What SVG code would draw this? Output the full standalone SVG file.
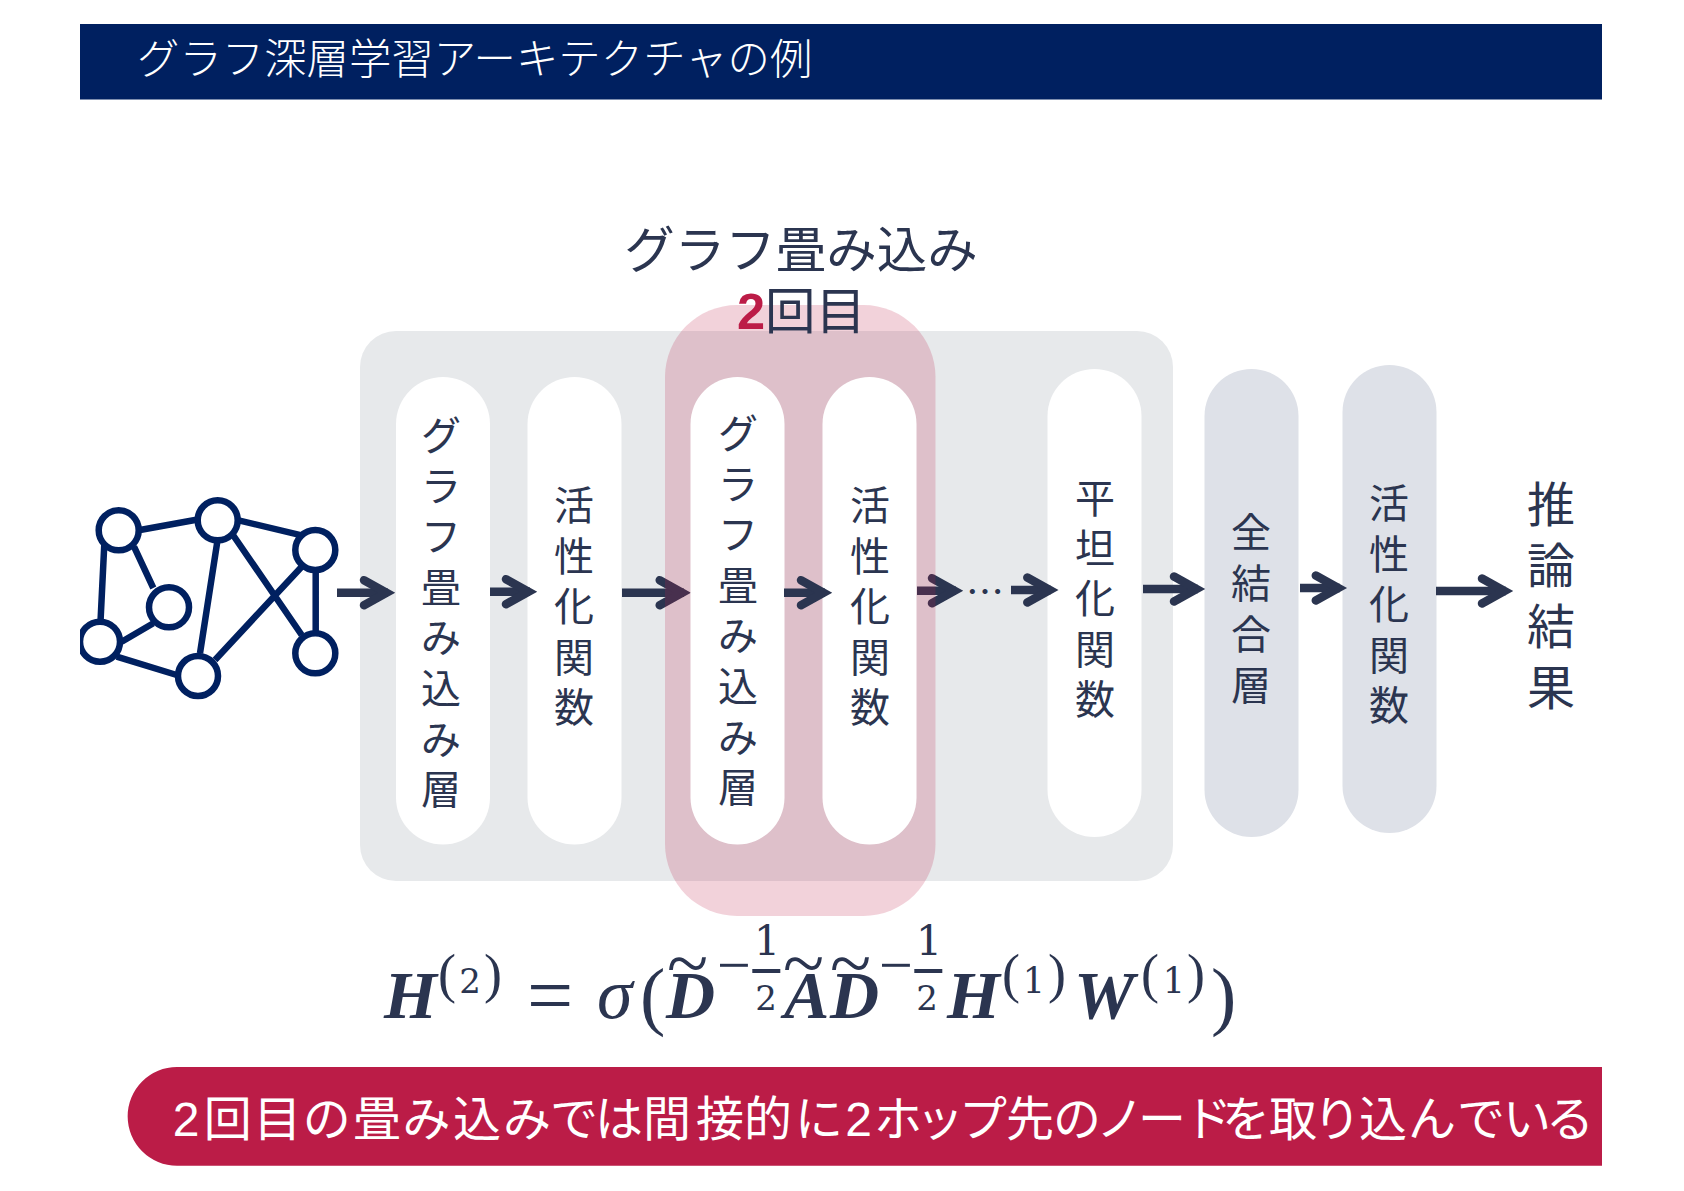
<svg xmlns="http://www.w3.org/2000/svg" width="1684" height="1191" viewBox="0 0 1684 1191">
<style>
text{font-family:"Liberation Sans","Noto Sans CJK JP",sans-serif;fill:#2B3550}
.v{font-size:40px;text-anchor:middle}
.w{fill:#fff}
.pw{fill:#fff}
.pb{fill:#DEE1E8}
.shaft,.head{fill:none;stroke:#2B3550;stroke-width:8.5}
.head{stroke-linecap:round;stroke-linejoin:miter;stroke-miterlimit:10}
.gn{fill:#fff;stroke:#002060;stroke-width:6.500}
.ge{fill:none;stroke:#002060;stroke-width:6.500}
.m{font-family:"Liberation Serif",serif}
.mb{font-family:"Liberation Serif",serif;font-weight:bold;font-style:italic;font-size:68px}
.t{font-family:"Liberation Serif",serif;font-size:76px}
.d{font-family:"DejaVu Serif",serif;text-anchor:middle}
</style>
<defs>
<clipPath id="cg"><rect x="80" y="480" width="300" height="240"/></clipPath>
</defs>
<rect width="1684" height="1191" fill="#fff"/>
<g id="title-bar"><rect x="80" y="24" width="1522" height="75.500" fill="#002060"/><text class="w" x="137" y="74" font-size="42.400" font-weight="300">グラフ深層学習アーキテクチャの例</text></g>
<g id="graph-title"><text x="801" y="268" font-size="50.500" text-anchor="middle">グラフ畳み込み</text></g>
<g id="graph-icon" clip-path="url(#cg)">
<path class="ge" d="M118 534L217 516M217.700 515.300L315.300 538.700M105 530L99.500 642M134 546.700L153.300 588M121.700 641.700L153.300 623.300M116.700 656.700L176.700 675M217.300 541.700L200 653.300M215 660L301.700 566.700M233 535L301.700 635M315.700 550V653"/>
<circle class="gn" cx="118.700" cy="530.300" r="20"/><circle class="gn" cx="217.700" cy="520.300" r="20"/><circle class="gn" cx="315.300" cy="550" r="20"/><circle class="gn" cx="169" cy="607.300" r="20"/><circle class="gn" cx="100" cy="641.700" r="20"/><circle class="gn" cx="198" cy="676" r="20"/><circle class="gn" cx="315.300" cy="653.300" r="20"/>
</g>
<g id="panel"><rect x="360" y="331" width="813" height="550" rx="36" fill="#E7E9EB"/></g>
<g id="connectors-under-highlight">
<path class="shaft" d="M622 592.700H684M917 590.700H956"/>
<path class="head" d="M659.700 580.200L682.200 592.700L659.700 605.200"/>
<path class="head" d="M932 578.200L954.500 590.700L932 603.200"/>
</g>
<g id="highlight"><rect x="665" y="305" width="270.500" height="611" rx="72" fill="#BC1C47" fill-opacity=".2"/></g>
<g id="count-label"><text x="737" y="329" font-size="50.500"><tspan font-weight="bold" fill="#BC1C47">2</tspan><tspan>回目</tspan></text></g>
<g id="layer1"><rect class="pw" x="396" y="377" width="94" height="467.500" rx="47"/><text class="v" x="441 441 441 441 441 441 441 441" y="450 500.600 551.200 601.800 652.400 703 753.600 804.200">グラフ畳み込み層</text></g>
<g id="act1"><rect class="pw" x="527.500" y="377" width="94" height="467.500" rx="47"/><text class="v" x="574 574 574 574 574" y="520 570.500 621 671.500 722">活性化関数</text></g>
<g id="layer2"><rect class="pw" x="690.500" y="377" width="94" height="467.500" rx="47"/><text class="v" x="738 738 738 738 738 738 738 738" y="448 498.600 549.200 599.800 650.400 701 751.600 802.200">グラフ畳み込み層</text></g>
<g id="act2"><rect class="pw" x="822.500" y="377" width="94" height="467.500" rx="47"/><text class="v" x="870 870 870 870 870" y="520 570.500 621 671.500 722">活性化関数</text></g>
<g id="flatten"><rect class="pw" x="1047.500" y="369" width="94" height="468" rx="47"/><text class="v" x="1095 1095 1095 1095 1095" y="513 563.200 613.400 663.600 713.800">平坦化関数</text></g>
<g id="dense"><rect class="pb" x="1204.500" y="369" width="94" height="468" rx="47"/><text class="v" x="1251 1251 1251 1251" y="547 598 649 700">全結合層</text></g>
<g id="act3"><rect class="pb" x="1342.500" y="365" width="94" height="468" rx="47"/><text class="v" x="1389 1389 1389 1389 1389" y="518 568.500 619 669.500 720">活性化関数</text></g>
<g id="result"><text class="v" style="font-size:48px" x="1551 1551 1551 1551" y="522 583 644 705">推論結果</text></g>
<g id="connectors">
<path class="shaft" d="M337 592.700H388M490 591.700H530M784 592.700H825M1011 590H1051M1143 589H1198M1300 588H1340M1436 591H1506"/>
<path class="head" d="M364 580.200L386.500 592.700L364 605.200"/>
<path class="head" d="M506 579.200L528.500 591.700L506 604.200"/>
<path class="head" d="M801 580.200L823.500 592.700L801 605.200"/>
<path class="head" d="M1027.300 577.500L1049.800 590L1027.300 602.500"/>
<path class="head" d="M1174 576.500L1196.500 589L1174 601.500"/>
<path class="head" d="M1315.800 575.500L1338.300 588L1315.800 600.500"/>
<path class="head" d="M1482 578.500L1504.500 591L1482 603.500"/>
</g>
<g id="ellipsis"><text class="v" style="font-family:'Noto Sans CJK JP',sans-serif;font-size:38px" x="985" y="605.500">…</text></g>
<g id="formula">
<text class="mb" x="384" y="1018">H</text>
<text class="m" font-size="54" x="438" y="992">(</text><text class="d" font-size="34" x="470" y="993">2</text><text class="m" font-size="54" x="484" y="992">)</text>
<text class="m" font-size="82" x="527" y="1023">=</text>
<text class="m" font-size="72" font-style="italic" x="597" y="1018">σ</text>
<text class="m" font-size="76" x="640" y="1021">(</text>
<text class="mb" x="666" y="1018">D</text><text class="t" x="667" y="989">~</text>
<text class="m" font-size="60" x="717" y="985">−</text>
<rect x="752.300" y="969" width="28" height="4" fill="#2B3550"/>
<text class="d" font-size="41" x="767" y="955">1</text><text class="d" font-size="34" x="766" y="1010">2</text>
<text class="mb" x="784" y="1018">A</text><text class="t" x="783" y="989">~</text>
<text class="mb" x="830" y="1018">D</text><text class="t" x="830" y="989">~</text>
<text class="m" font-size="60" x="879" y="985">−</text>
<rect x="914.300" y="969" width="28" height="4" fill="#2B3550"/>
<text class="d" font-size="41" x="929" y="955">1</text><text class="d" font-size="34" x="927" y="1010">2</text>
<text class="mb" x="947" y="1018">H</text>
<text class="m" font-size="54" x="1002" y="992">(</text><text class="d" font-size="35" x="1034" y="993">1</text><text class="m" font-size="54" x="1048" y="992">)</text>
<text class="mb" x="1074" y="1018">W</text>
<text class="m" font-size="54" x="1141" y="992">(</text><text class="d" font-size="35" x="1174" y="993">1</text><text class="m" font-size="54" x="1187" y="992">)</text>
<text class="m" font-size="76" x="1211" y="1021">)</text>
</g>
<g id="banner"><path d="M1602 1067H177a49.300 49.300 0 0 0 0 98.700H1602Z" fill="#BB1C47"/><text class="w" text-anchor="middle" x="186 227.700 277.500 326.700 377 426.500 477 527 574 619 667 720 768 819 858.500 898 940 983 1030 1077 1120 1162 1208 1246 1293 1337 1383 1432 1481 1527 1570" y="1136" font-size="48">2回目の畳み込みでは間接的に2ホップ先のノードを取り込んでいる</text></g>
</svg>
